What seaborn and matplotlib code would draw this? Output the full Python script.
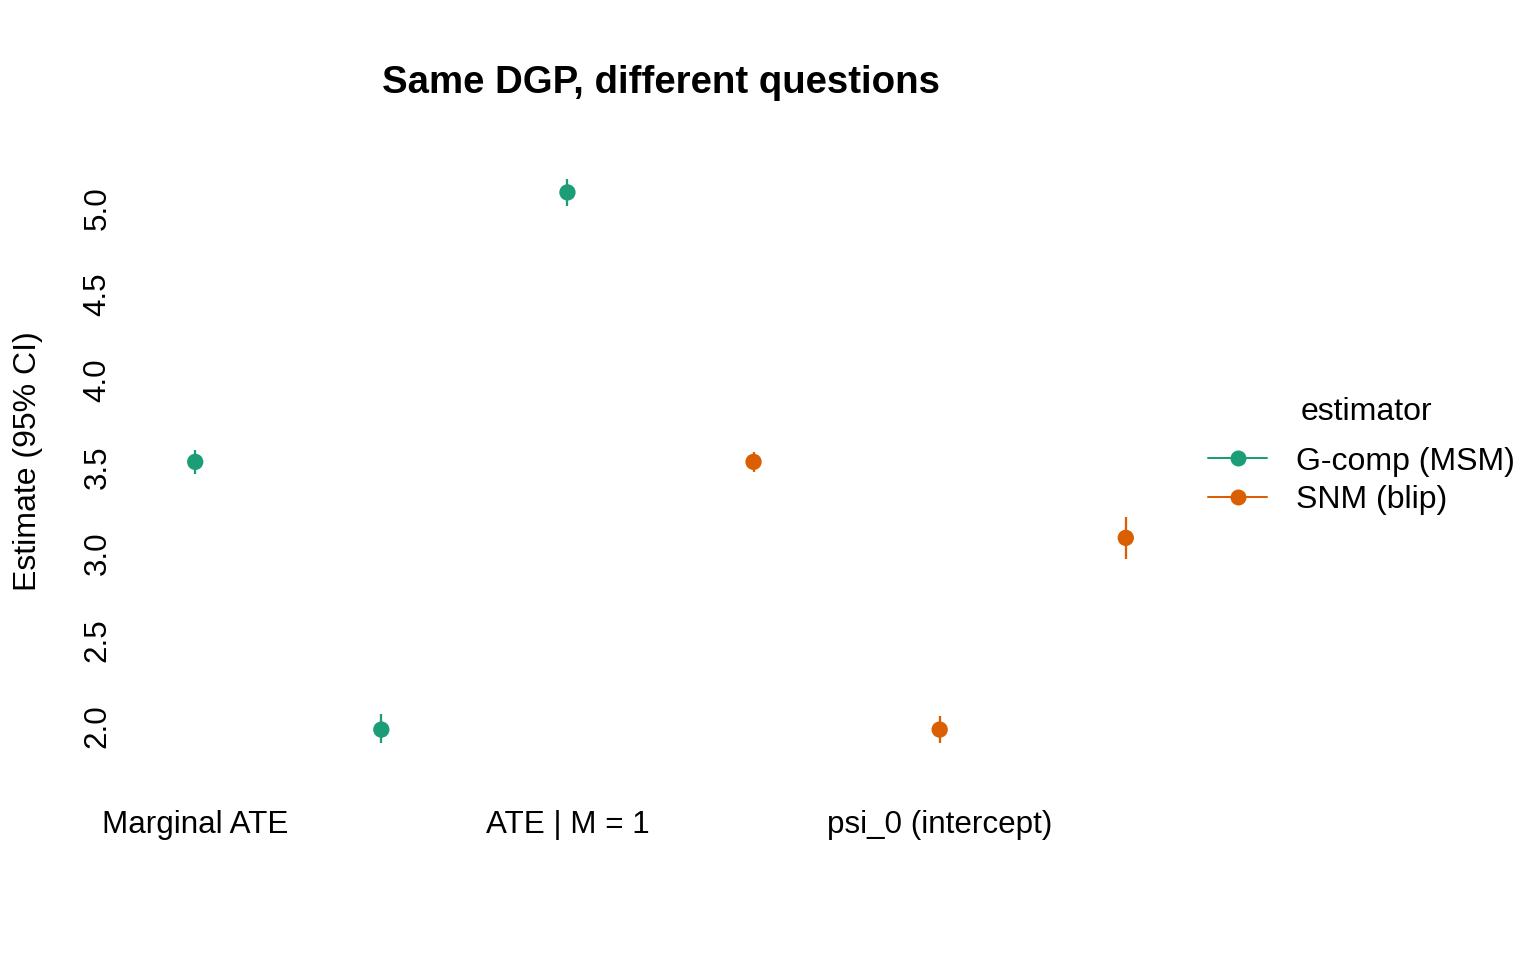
import numpy as np
import pandas as pd
import matplotlib
matplotlib.use("Agg")
import matplotlib.pyplot as plt
from matplotlib.lines import Line2D
import seaborn as sns

# ----- Data -----
rows = [1, 2, 3, 4, 5, 6]
estimator = ["G-comp (MSM)", "G-comp (MSM)", "G-comp (MSM)",
             "SNM (blip)", "SNM (blip)", "SNM (blip)"]
estimate = [3.53, 1.98, 5.09, 3.53, 1.98, 3.09]
lower = [3.46, 1.90, 5.01, 3.47, 1.90, 2.97]
upper = [3.60, 2.07, 5.17, 3.59, 2.06, 3.21]
question_labels = ["Marginal ATE", "ATE | M = 1", "psi_0 (intercept)"]
question_ticks = [1, 3, 5]
est_order = ["G-comp (MSM)", "SNM (blip)"]
palette = {"G-comp (MSM)": "#1B9E77", "SNM (blip)": "#D95F02"}

df = pd.DataFrame({"row": rows, "estimator": estimator, "estimate": estimate,
                   "lower": lower, "upper": upper})

# ----- Style -----
sns.set_theme(style="white")
plt.rcParams["font.family"] = ["Liberation Sans", "DejaVu Sans"]
plt.rcParams["text.color"] = "black"

fig = plt.figure(figsize=(16, 10), dpi=96)
ax = fig.add_axes([158 / 1536, 1 - 766 / 960, 1005 / 1536, 610 / 960])

# CI segments
for est in est_order:
    sub = df[df["estimator"] == est]
    ax.vlines(sub["row"], sub["lower"], sub["upper"], color=palette[est], lw=1.7, zorder=2)

sns.scatterplot(data=df, x="row", y="estimate", hue="estimator", hue_order=est_order,
                palette=palette, s=150, edgecolor="none", legend=False, ax=ax, zorder=3)

# R style 4% padding
lo, hi = min(lower), max(upper)
pad = 0.04 * (hi - lo)
ax.set_ylim(lo - pad, hi + pad)
ax.set_xlim(min(rows) - 0.04 * (max(rows) - min(rows)), max(rows) + 0.04 * (max(rows) - min(rows)))

ax.set_xticks(question_ticks)
ax.set_xticklabels(question_labels)
ax.set_yticks([2.0, 2.5, 3.0, 3.5, 4.0, 4.5, 5.0])
ax.set_yticklabels(["2.0", "2.5", "3.0", "3.5", "4.0", "4.5", "5.0"], rotation=90, va="center")
ax.tick_params(axis="both", length=0, labelsize=23.5, colors="black")
ax.tick_params(axis="x", pad=33)
ax.tick_params(axis="y", pad=34)
for s in ax.spines.values():
    s.set_visible(False)

ax.set_xlabel("")
ax.set_ylabel("Estimate (95% CI)", fontsize=24, color="black", labelpad=30)
ax.set_title("Same DGP, different questions", fontsize=28.8, fontweight="bold",
             color="black", pad=47)

handles = [Line2D([0], [0], color=palette[e], lw=1.5, marker="o", markersize=12,
                  markeredgewidth=0) for e in est_order]
leg = fig.legend(handles, est_order, loc="center left",
                 bbox_to_anchor=(1208 / 1536, 1 - 481 / 960), frameon=False,
                 fontsize=24, handlelength=1.85, handletextpad=0.9,
                 labelspacing=0.28, borderpad=0, borderaxespad=0)
for t in leg.get_texts():
    t.set_color("black")
fig.text(1366 / 1536, 1 - 412 / 960, "estimator", fontsize=24, color="black",
         ha="center", va="center")

fig.savefig("out.png", dpi=96, facecolor="white")
